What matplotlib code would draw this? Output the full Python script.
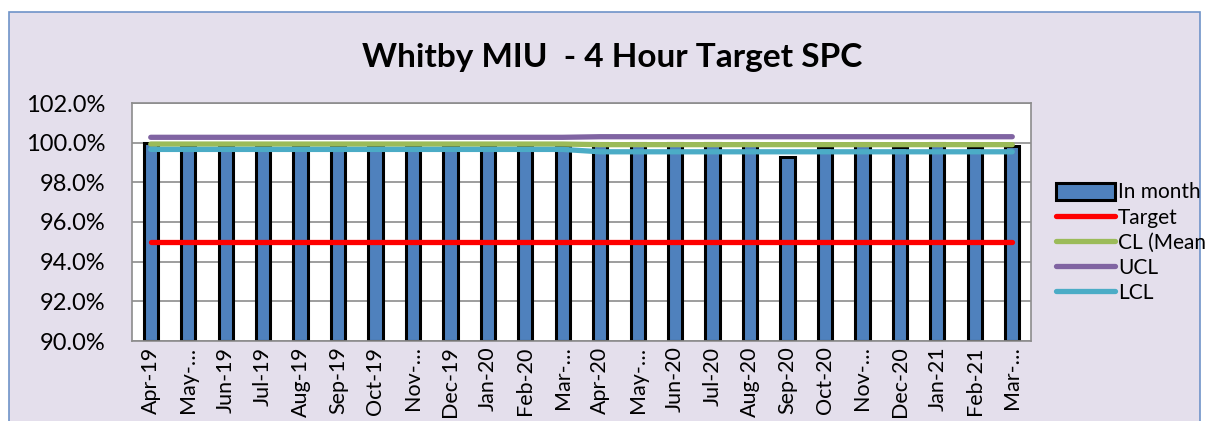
import matplotlib
matplotlib.use("Agg")
import matplotlib.pyplot as plt
from matplotlib.patches import Rectangle, Patch
from matplotlib.lines import Line2D
from matplotlib.ticker import FuncFormatter

months = ["Apr-19", "May-\u2026", "Jun-19", "Jul-19", "Aug-19", "Sep-19", "Oct-19", "Nov-\u2026",
          "Dec-19", "Jan-20", "Feb-20", "Mar-\u2026", "Apr-20", "May-\u2026", "Jun-20", "Jul-20",
          "Aug-20", "Sep-20", "Oct-20", "Nov-\u2026", "Dec-20", "Jan-21", "Feb-21", "Mar-\u2026"]
in_month = [100.0, 99.9, 99.9, 99.9, 99.9, 99.9, 99.9, 99.9, 99.9, 99.9, 99.9, 99.9,
            100.0, 100.0, 100.0, 100.0, 100.0, 99.3, 99.8, 100.0, 99.8, 100.0, 99.8, 99.83]
target = [95.0] * 24
cl_mean = [99.93] * 12 + [99.9] * 12
ucl = [100.27] * 12 + [100.3] * 12
lcl = [99.66] * 12 + [99.54] * 12

plt.rcParams['font.family'] = ['Lato', 'DejaVu Sans']

fig = plt.figure(figsize=(12.05, 4.21), dpi=100)
fig.patch.set_facecolor("white")
# chart area background with blue border
fig.patches.append(Rectangle((9 / 1205, -0.05), 1191 / 1205, 1.05 - 12 / 421,
                             transform=fig.transFigure, facecolor="#E4DFEC",
                             edgecolor="#6F93C8", linewidth=1.2, zorder=-10))

ax = fig.add_axes([132 / 1205, 1 - 341 / 421, 899 / 1205, 238 / 421])
ax.set_facecolor("white")

x = range(len(months))
ax.bar(x, [v - 90 for v in in_month], bottom=90, width=0.38, color="#4F81BD",
       edgecolor="black", linewidth=2.2, zorder=2)
ax.plot(x, target, color="#FF0000", lw=3.8, solid_capstyle="round", zorder=3)
ax.plot(x, cl_mean, color="#9BBB59", lw=3.8, solid_capstyle="round", zorder=3)
ax.plot(x, ucl, color="#8064A2", lw=3.8, solid_capstyle="round", zorder=3)
ax.plot(x, lcl, color="#4BACC6", lw=3.8, solid_capstyle="round", zorder=3)

ax.set_xlim(-0.5, 23.5)
ax.set_ylim(90, 102)
ax.set_yticks([90, 92, 94, 96, 98, 100, 102])
ax.yaxis.set_major_formatter(FuncFormatter(lambda v, p: f"{v:.1f}%"))
ax.grid(axis="y", color="#8C8C8C", lw=1.2, zorder=0)
ax.set_axisbelow(True)
ax.set_xticks(list(x))
ax.set_xticklabels(months, rotation=90, fontsize=15.5)
ax.tick_params(axis="y", labelsize=17, length=0, pad=19)
ax.tick_params(axis="x", length=0, pad=4)
for s in ax.spines.values():
    s.set_color("#8C8C8C")
    s.set_linewidth(1.2)

fig.text(612 / 1205, 1 - 58 / 421, "Whitby MIU  - 4 Hour Target SPC", ha="center",
         va="center", fontsize=24, fontweight="bold")

handles = [Patch(facecolor="#4F81BD", edgecolor="black", linewidth=2.2),
           Line2D([], [], color="#FF0000", lw=3.8, solid_capstyle="round"),
           Line2D([], [], color="#9BBB59", lw=3.8, solid_capstyle="round"),
           Line2D([], [], color="#8064A2", lw=3.8, solid_capstyle="round"),
           Line2D([], [], color="#4BACC6", lw=3.8, solid_capstyle="round")]
labels = ["In month", "Target", "CL (Mean)", "UCL", "LCL"]
fig.legend(handles, labels, loc="upper left", bbox_to_anchor=(1048 / 1205, 1 - 174 / 421),
           frameon=False, fontsize=15, handlelength=2.8, handleheight=0.9,
           handletextpad=0.15, labelspacing=0.25, borderaxespad=0)

fig.savefig("out.png", dpi=100)
